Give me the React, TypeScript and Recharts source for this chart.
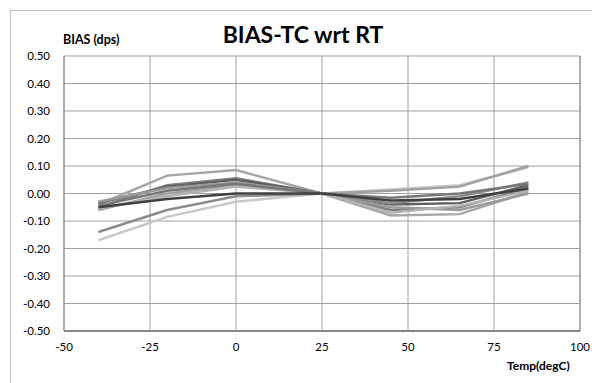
import { LineChart, Line, XAxis, YAxis, CartesianGrid, ReferenceLine } from "recharts";

const temps = [-40, -20, 0, 25, 45, 65, 85];
const xTicks = [-50, -25, 0, 25, 50, 75, 100];
const yTicks = [-0.5, -0.4, -0.3, -0.2, -0.1, 0, 0.1, 0.2, 0.3, 0.4, 0.5];

// bias per part, one array per device
const dev1 = [-0.04, 0.065, 0.085, 0, -0.08, -0.075, 0.005];
const dev2 = [-0.05, 0.03, 0.055, 0, -0.06, -0.05, 0.02];
const dev3 = [-0.05, -0.02, 0.0, 0, -0.025, -0.02, 0.018];
const dev4 = [-0.035, 0.025, 0.05, 0, -0.04, -0.035, 0.03];
const dev5 = [-0.06, 0.0, 0.03, 0, 0.01, 0.025, 0.1];
const dev6 = [-0.03, 0.02, 0.04, 0, -0.05, -0.06, 0.0];
const dev7 = [-0.14, -0.06, -0.01, 0, -0.035, -0.01, 0.04];
const dev8 = [-0.17, -0.085, -0.03, 0, 0.015, 0.03, 0.095];
const dev9 = [-0.055, -0.01, 0.025, 0, -0.07, -0.045, 0.01];
const dev10 = [-0.045, 0.01, 0.035, 0, -0.015, 0.0, 0.035];

const series = [
  { key: "d1", values: dev1, color: "#a6a6a6" },
  { key: "d2", values: dev2, color: "#7f7f7f" },
  { key: "d4", values: dev4, color: "#5f5f5f" },
  { key: "d8", values: dev8, color: "#c8c8c8" },
  { key: "d5", values: dev5, color: "#a0a0a0" },
  { key: "d6", values: dev6, color: "#9a9a9a" },
  { key: "d7", values: dev7, color: "#8c8c8c" },
  { key: "d9", values: dev9, color: "#b3b3b3" },
  { key: "d10", values: dev10, color: "#777777" },
  { key: "d3", values: dev3, color: "#404040" },
];

const data = temps.map((t, i) => {
  const row: Record<string, number> = { temp: t };
  series.forEach((s) => (row[s.key] = s.values[i]));
  return row;
});

const font = "Lato, 'Open Sans', sans-serif";

export default function App() {
  return (
    <div style={{ position: "fixed", left: 0, top: 0, width: 592, height: 383, overflow: "hidden", background: "#fff", fontFamily: font }}>
      {/* chart area frame */}
      <div style={{ position: "absolute", left: 10, top: 10, width: 620, height: 420, border: "1px solid #bfbfbf" }} />

      <LineChart width={592} height={383} data={data} margin={{ top: 56, right: 12, bottom: 22, left: 10 }}>
        <CartesianGrid stroke="#a0a0a0" strokeWidth={1} />
        <XAxis
          dataKey="temp"
          type="number"
          domain={[-50, 100]}
          ticks={xTicks}
          height={30}
          tickLine={false}
          tickMargin={6}
          axisLine={{ stroke: "#868686", strokeWidth: 2 }}
          tick={{ fill: "#000", fontSize: 11.5, fontFamily: font }}
        />
        <YAxis
          type="number"
          domain={[-0.5, 0.5]}
          ticks={yTicks}
          width={54}
          tickLine={false}
          tickMargin={8}
          axisLine={{ stroke: "#868686" }}
          tickFormatter={(v: number) => v.toFixed(2)}
          tick={{ fill: "#000", fontSize: 11.5, fontFamily: font }}
        />
        <ReferenceLine x={100} stroke="#868686" />
        {series.map((s) => (
          <Line
            key={s.key}
            dataKey={s.key}
            stroke={s.color}
            strokeWidth={2.5}
            dot={false}
            isAnimationActive={false}
          />
        ))}
      </LineChart>

      <div style={{ position: "absolute", left: 0, width: 606, top: 20, textAlign: "center", fontSize: 23, fontWeight: 700, lineHeight: "28px" }}>
        BIAS-TC wrt RT
      </div>
      <div style={{ position: "absolute", left: 63, top: 32, fontSize: 12.5, fontWeight: 700, lineHeight: "15px" }}>BIAS (dps)</div>
      <div style={{ position: "absolute", left: 507, top: 358, fontSize: 12, fontWeight: 700, lineHeight: "15px" }}>Temp(degC)</div>
    </div>
  );
}
